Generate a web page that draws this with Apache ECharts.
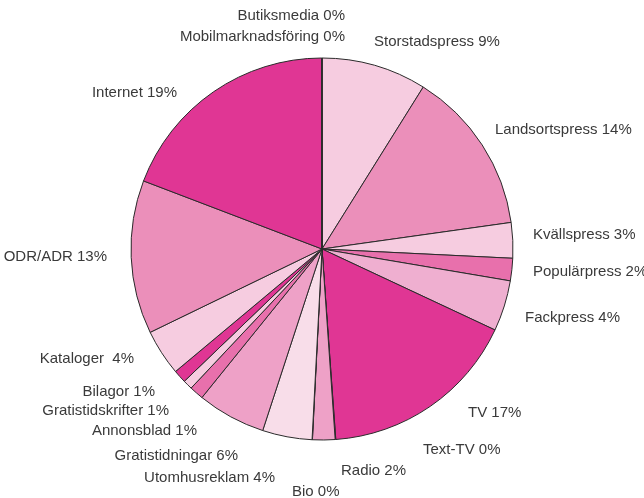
<!DOCTYPE html>
<html>
<head>
<meta charset="utf-8">
<script src="https://cdn.jsdelivr.net/npm/echarts@6/dist/echarts.min.js"></script>
<style>
html, body { margin: 0; padding: 0; background: #fff; }
#main { width: 644px; height: 498px; }
</style>
</head>
<body>
<div id="main"></div>
<script>
// categories, clockwise from 12 o'clock
var categories = ['Storstadspress', 'Landsortspress', 'Kvällspress', 'Populärpress', 'Fackpress',
    'TV', 'Text-TV', 'Radio', 'Bio', 'Utomhusreklam', 'Gratistidningar', 'Annonsblad',
    'Gratistidskrifter', 'Bilagor', 'Kataloger', 'ODR/ADR', 'Internet', 'Mobilmarknadsföring', 'Butiksmedia'];
// share of total (%)
var shares = [8.9, 13.9, 3.0, 1.9, 4.3, 16.9, 0.05, 1.9, 0.03, 4.2, 5.8, 1.2, 0.8, 1.1, 3.9, 13.0, 19.2, 0.01, 0.01];
// printed label percentages
var printed = ['9%', '14%', '3%', '2%', '4%', '17%', '0%', '2%', '0%', '4%', '6%', '1%', '1%', '1%', ' 4%', '13%', '19%', '0%', '0%'];

var colors = ['#f6cce0', '#eb8fba', '#f6cce0', '#e870ac', '#efafd0', '#e03694', '#e03694', '#eea1c7', '#f8dde9',
    '#f8dde9', '#eea1c7', '#e870ac', '#f6cce0', '#e03694', '#f6cce0', '#eb8fba', '#e03694', '#e03694', '#e03694'];

// label anchors [x, y, align]
var labelPos = [
    [374, 42, 'left'], [495, 130, 'left'], [533, 235, 'left'], [533, 272, 'left'], [525, 318, 'left'],
    [468, 413, 'left'], [423, 450, 'left'], [341, 471, 'left'], [292, 492, 'left'], [275, 478, 'right'],
    [238, 456, 'right'], [197, 431, 'right'], [169, 411, 'right'], [155, 392, 'right'], [134, 359, 'right'],
    [107, 257, 'right'], [177, 93, 'right'], [345, 37, 'right'], [345, 16, 'right']
];

var chart = echarts.init(document.getElementById('main'));
var option = {
    animation: false,
    textStyle: { fontFamily: 'Liberation Sans' },
    series: [{
        type: 'pie',
        center: [322, 249],
        radius: 191,
        startAngle: 90,
        clockwise: true,
        minAngle: 0,
        avoidLabelOverlap: false,
        itemStyle: { borderColor: '#2a2a2a', borderWidth: 1 },
        emphasis: { disabled: true },
        label: {
            show: true,
            position: 'outside',
            color: '#3a3a3a',
            fontSize: 15,
            formatter: function (p) { return p.name + ' ' + printed[p.dataIndex]; }
        },
        labelLine: { show: false },
        labelLayout: function (p) {
            var lp = labelPos[p.dataIndex];
            return { x: lp[0], y: lp[1], align: lp[2], verticalAlign: 'middle' };
        },
        data: categories.map(function (c, i) {
            return { name: c, value: shares[i], itemStyle: { color: colors[i] } };
        })
    }]
};
chart.setOption(option);
</script>
</body>
</html>
